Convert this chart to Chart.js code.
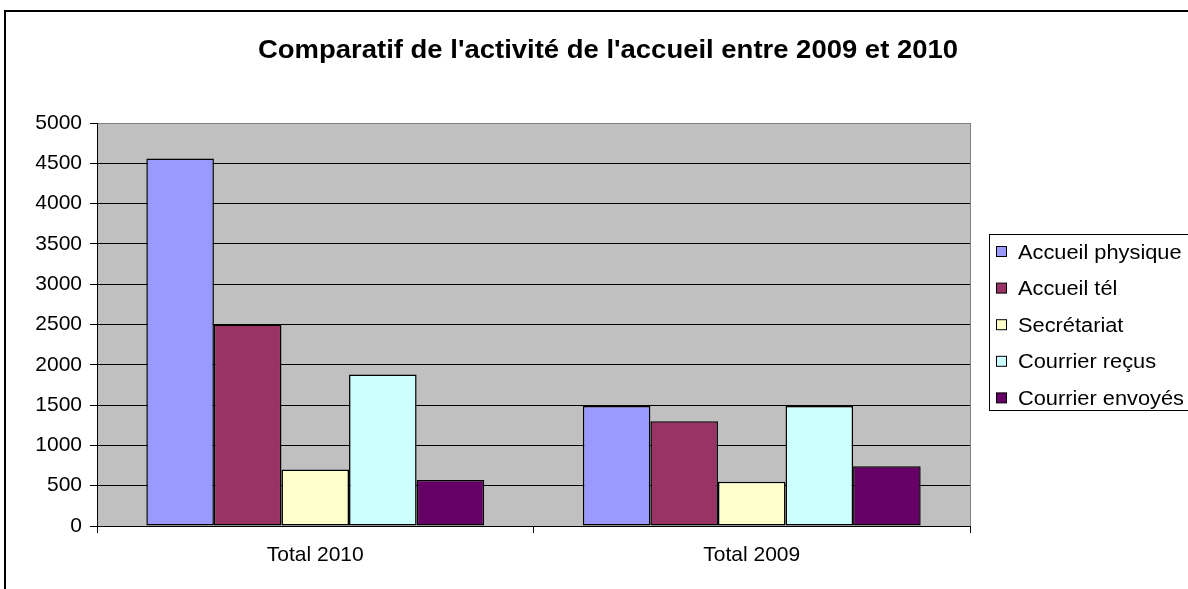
<!DOCTYPE html>
<html>
<head>
<meta charset="utf-8">
<script src="https://cdn.jsdelivr.net/npm/chart.js@4/dist/chart.umd.min.js"></script>
<style>
  body { margin: 0; background: #fff; }
  canvas { display: block; }
</style>
</head>
<body>
<canvas id="chart" width="1188" height="589"></canvas>
<script>
// data
const categories = ["Total 2010", "Total 2009"];
const seriesNames = ["Accueil physique", "Accueil tél", "Secrétariat", "Courrier reçus", "Courrier envoyés"];
const accueilPhysique = [4560, 1490];
const accueilTel = [2500, 1300];
const secretariat = [700, 550];
const courrierRecus = [1880, 1490];
const courrierEnvoyes = [570, 740];
const yTicks = [0, 500, 1000, 1500, 2000, 2500, 3000, 3500, 4000, 4500, 5000];

const colors = ["#9999FF", "#993366", "#FFFFCC", "#CCFFFF", "#660066"];
const FONT = "'Liberation Sans', Arial, sans-serif";
const TITLE = "Comparatif de l'activité de l'accueil entre 2009 et 2010";

const series = [accueilPhysique, accueilTel, secretariat, courrierRecus, courrierEnvoyes];

// background, frame, title and legend (excel style)
const excelDecor = {
    id: "excelDecor",
    beforeDraw(chart){
        const ctx = chart.ctx;
        const a = chart.chartArea;
        ctx.save();
        ctx.fillStyle = "#fff";
        ctx.fillRect(0, 0, chart.width, chart.height);
        ctx.fillStyle = "#C0C0C0";
        ctx.fillRect(a.left, a.top, a.right - a.left, a.bottom - a.top);
        ctx.strokeStyle = "#808080";
        ctx.lineWidth = 1;
        ctx.strokeRect(a.left + 0.5, a.top + 0.5, a.right - a.left, a.bottom - a.top);
        ctx.restore();
    },
    afterDraw(chart){
        const ctx = chart.ctx;
        ctx.save();
        // outer frame
        ctx.strokeStyle = "#000";
        ctx.lineWidth = 2;
        ctx.strokeRect(5, 11, 1400, 800);

        // title
        ctx.fillStyle = "#000";
        ctx.font = "bold 25px " + FONT;
        ctx.textBaseline = "middle";
        ctx.textAlign = "left";
        let w = ctx.measureText(TITLE).width;
        let sx = 700 / w;
        ctx.save();
        ctx.translate(258, 51);
        ctx.scale(sx, 1);
        ctx.fillText(TITLE, 0, 0);
        ctx.restore();

        // legend
        ctx.fillStyle = "#fff";
        ctx.fillRect(989.5, 234.5, 300, 176);
        ctx.strokeStyle = "#000";
        ctx.lineWidth = 1;
        ctx.strokeRect(989.5, 234.5, 300, 176);
        ctx.font = "20px " + FONT;
        const lw = ctx.measureText("Courrier envoyés").width;
        const lsx = 166 / lw;
        chart.data.datasets.forEach(function(ds, i){
            const y = 252 + i * 36.6;
            ctx.fillStyle = ds.backgroundColor;
            ctx.fillRect(996.5, y - 5.5, 10, 10);
            ctx.strokeStyle = "#000";
            ctx.strokeRect(996.5, y - 5.5, 10, 10);
            ctx.fillStyle = "#000";
            ctx.save();
            ctx.translate(1018, y + 1);
            ctx.scale(lsx, 1);
            ctx.fillText(ds.label, 0, 0);
            ctx.restore();
        });
        ctx.restore();
    }
};

const chart = new Chart(document.getElementById("chart"), {
    type: "bar",
    data: {
        labels: categories,
        datasets: series.map(function(values, i){
            return {
                label: seriesNames[i],
                data: values,
                backgroundColor: colors[i],
                borderColor: "#000",
                borderWidth: 1.5,
                borderSkipped: false,
                barPercentage: 1,
                categoryPercentage: 0.774
            };
        })
    },
    options: {
        responsive: false,
        animation: false,
        devicePixelRatio: 1,
        layout: { padding: { left: 0, top: 123, right: 218, bottom: 0 } },
        plugins: {
            legend: { display: false },
            title: { display: false },
            tooltip: { enabled: false }
        },
        scales: {
            x: {
                grid: {
                    offset: true,
                    drawOnChartArea: false,
                    drawTicks: true,
                    tickLength: 7,
                    color: "#000"
                },
                border: { color: "#000" },
                ticks: {
                    color: "#000",
                    font: { family: FONT, size: 21 },
                    padding: 10
                },
                afterFit(scale){ scale.height = 63; }
            },
            y: {
                min: 0,
                max: 5000,
                afterBuildTicks(scale){
                    scale.ticks = yTicks.map(function(v){ return { value: v }; });
                },
                grid: {
                    color: function(c){ return c.tick && c.tick.value === 5000 ? "#808080" : "#000"; },
                    tickColor: "#000",
                    tickLength: 7,
                    lineWidth: 1
                },
                border: { color: "#000" },
                ticks: {
                    color: "#000",
                    font: { family: FONT, size: 21 },
                    padding: 8,
                    callback: function(v){ return String(v); }
                },
                afterFit(scale){ scale.width = 97; }
            }
        }
    },
    plugins: [excelDecor]
});
</script>
</body>
</html>
